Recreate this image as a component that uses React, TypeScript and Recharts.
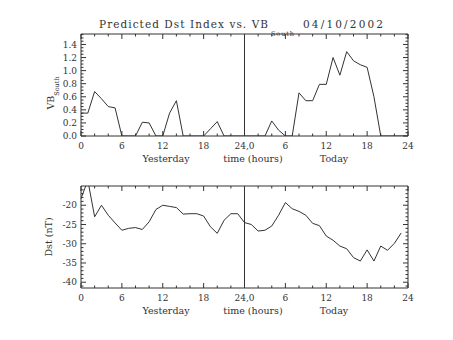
import React from 'react';
import {
  LineChart,
  Line,
  XAxis,
  YAxis,
  ReferenceLine,
} from 'recharts';

// hourly values, yesterday 0-23 then today 24-48
const vbSouth = [
  0.35, 0.35, 0.68, 0.57, 0.45, 0.43, 0, 0, 0, 0.21, 0.2, 0, 0, 0.35, 0.54, 0,
  0, 0, 0, 0.11, 0.22, 0, 0, 0,
  0, 0, 0, 0, 0.23, 0.09, 0, 0, 0.66, 0.54, 0.54, 0.79, 0.79, 1.2, 0.93, 1.29,
  1.15, 1.09, 1.05, 0.6, 0, 0, 0, 0, 0,
];

const dst = [
  -18.3, -13.5, -23.0, -20.0, -22.6, -24.6, -26.5, -26.0, -25.8, -26.3, -24.3,
  -21.1, -20.0, -20.3, -20.6, -22.3, -22.2, -22.2, -22.8, -25.6, -27.3, -23.9,
  -22.2, -22.2,
  -24.5, -25.0, -26.7, -26.5, -25.4, -22.6, -19.3, -20.9, -21.6, -22.6, -24.7,
  -25.3, -28.0, -29.1, -30.6, -31.3, -33.6, -34.5, -31.6, -34.5, -30.6, -31.7,
  -29.9, -27.2,
];

const hourTicks = [
  0, 2, 4, 6, 8, 10, 12, 14, 16, 18, 20, 22, 24, 26, 28, 30, 32, 34, 36, 38, 40,
  42, 44, 46, 48,
];

const vbTicks = [
  0, 0.05, 0.1, 0.15, 0.2, 0.25, 0.3, 0.35, 0.4, 0.45, 0.5, 0.55, 0.6, 0.65,
  0.7, 0.75, 0.8, 0.85, 0.9, 0.95, 1.0, 1.05, 1.1, 1.15, 1.2, 1.25, 1.3, 1.35,
  1.4, 1.45, 1.5, 1.55,
];

const dstTicks = [
  -41, -40, -39, -38, -37, -36, -35, -34, -33, -32, -31, -30, -29, -28, -27,
  -26, -25, -24, -23, -22, -21, -20, -19, -18, -17, -16,
];

const vbData = vbSouth.map((v, i) => ({ hour: i, vb: v }));
const dstData = dst.map((v, i) => ({ hour: i, dst: v }));

const FONT = "'DejaVu Serif', serif";
const INK = '#333';

const hourLabel = (v: number) => (v === 24 ? '24,0' : v > 24 ? String(v - 24) : String(v));
const isVbMajor = (v: number) => Math.abs(v * 5 - Math.round(v * 5)) < 1e-6;
const isDstMajor = (v: number) => v % 5 === 0;

function BottomTick({ x, y, payload }: any) {
  const v = payload.value;
  const major = v % 6 === 0;
  return (
    <g>
      <line x1={x} x2={x} y1={y} y2={y - (major ? 5 : 2.5)} stroke={INK} />
      {major && (
        <text x={x} y={y + 13} textAnchor="middle" fontSize={9} fontFamily={FONT} fill={INK}>
          {hourLabel(v)}
        </text>
      )}
    </g>
  );
}

function TopTick({ x, y, payload }: any) {
  const major = payload.value % 6 === 0;
  return <line x1={x} x2={x} y1={y} y2={y + (major ? 5 : 2.5)} stroke={INK} />;
}

function makeLeftTick(isMajor: (v: number) => boolean, fmt: (v: number) => string) {
  return function LeftTick({ x, y, payload }: any) {
    const major = isMajor(payload.value);
    return (
      <g>
        <line x1={x} x2={x + (major ? 5 : 2.5)} y1={y} y2={y} stroke={INK} />
        {major && (
          <text x={x - 4} y={y + 3.2} textAnchor="end" fontSize={9} fontFamily={FONT} fill={INK}>
            {fmt(payload.value)}
          </text>
        )}
      </g>
    );
  };
}

function makeRightTick(isMajor: (v: number) => boolean) {
  return function RightTick({ x, y, payload }: any) {
    const major = isMajor(payload.value);
    return <line x1={x} x2={x - (major ? 5 : 2.5)} y1={y} y2={y} stroke={INK} />;
  };
}

const VbLeftTick = makeLeftTick(isVbMajor, (v) => v.toFixed(1));
const VbRightTick = makeRightTick(isVbMajor);
const DstLeftTick = makeLeftTick(isDstMajor, (v) => String(v));
const DstRightTick = makeRightTick(isDstMajor);

const axisLine = { stroke: INK };

function TimeCaption({ y }: { y: number }) {
  return (
    <g fontSize={9.5} fontFamily={FONT} fill={INK} textAnchor="middle">
      <text x={166} y={y}>Yesterday</text>
      <text x={253} y={y}>time (hours)</text>
      <text x={334} y={y}>Today</text>
    </g>
  );
}

export default function App() {
  return (
    <div
      style={{
        position: 'absolute',
        left: 0,
        top: 0,
        width: 453,
        height: 340,
        background: '#fff',
        fontFamily: FONT,
      }}
    >
      <div style={{ position: 'absolute', left: 0, top: 0 }}>
        <LineChart width={453} height={170} data={vbData} margin={{ top: 0, right: 0, bottom: 14, left: 0 }}>
          <XAxis
            dataKey="hour"
            type="number"
            domain={[0, 48]}
            ticks={hourTicks}
            interval={0}
            height={20}
            tickSize={0}
            tickMargin={0}
            tickLine={false}
            axisLine={axisLine}
            tick={<BottomTick />}
          />
          <XAxis
            xAxisId="top"
            dataKey="hour"
            orientation="top"
            type="number"
            domain={[0, 48]}
            ticks={hourTicks}
            interval={0}
            height={34}
            tickSize={0}
            tickMargin={0}
            tickLine={false}
            axisLine={axisLine}
            tick={<TopTick />}
          />
          <YAxis
            type="number"
            domain={[0, 1.56]}
            allowDataOverflow
            ticks={vbTicks}
            interval={0}
            width={81}
            tickSize={0}
            tickMargin={0}
            tickLine={false}
            axisLine={axisLine}
            tick={<VbLeftTick />}
          />
          <YAxis
            yAxisId="right"
            orientation="right"
            type="number"
            domain={[0, 1.56]}
            allowDataOverflow
            ticks={vbTicks}
            interval={0}
            width={45}
            tickSize={0}
            tickMargin={0}
            tickLine={false}
            axisLine={axisLine}
            tick={<VbRightTick />}
          />
          <ReferenceLine x={24} stroke={INK} />
          {/* invisible copy so the top and right frame axes get a scale */}
          <Line
            xAxisId="top"
            yAxisId="right"
            dataKey="vb"
            stroke="none"
            dot={false}
            activeDot={false}
            isAnimationActive={false}
          />
          <Line
            type="linear"
            dataKey="vb"
            stroke={INK}
            strokeWidth={1}
            dot={false}
            isAnimationActive={false}
          />
        </LineChart>
      </div>
      <div style={{ position: 'absolute', left: 0, top: 170 }}>
        <LineChart width={453} height={170} data={dstData} margin={{ top: 0, right: 0, bottom: 32, left: 0 }}>
          <XAxis
            dataKey="hour"
            type="number"
            domain={[0, 48]}
            ticks={hourTicks}
            interval={0}
            height={20}
            tickSize={0}
            tickMargin={0}
            tickLine={false}
            axisLine={axisLine}
            tick={<BottomTick />}
          />
          <XAxis
            xAxisId="top"
            dataKey="hour"
            orientation="top"
            type="number"
            domain={[0, 48]}
            ticks={hourTicks}
            interval={0}
            height={16}
            tickSize={0}
            tickMargin={0}
            tickLine={false}
            axisLine={axisLine}
            tick={<TopTick />}
          />
          <YAxis
            type="number"
            domain={[-41.5, -15]}
            allowDataOverflow
            ticks={dstTicks}
            interval={0}
            width={81}
            tickSize={0}
            tickMargin={0}
            tickLine={false}
            axisLine={axisLine}
            tick={<DstLeftTick />}
          />
          <YAxis
            yAxisId="right"
            orientation="right"
            type="number"
            domain={[-41.5, -15]}
            allowDataOverflow
            ticks={dstTicks}
            interval={0}
            width={45}
            tickSize={0}
            tickMargin={0}
            tickLine={false}
            axisLine={axisLine}
            tick={<DstRightTick />}
          />
          <ReferenceLine x={24} stroke={INK} />
          <Line
            xAxisId="top"
            yAxisId="right"
            dataKey="dst"
            stroke="none"
            dot={false}
            activeDot={false}
            isAnimationActive={false}
          />
          <Line
            type="linear"
            dataKey="dst"
            stroke={INK}
            strokeWidth={1}
            dot={false}
            isAnimationActive={false}
          />
        </LineChart>
      </div>
      <svg
        width={453}
        height={340}
        style={{ position: 'absolute', left: 0, top: 0, pointerEvents: 'none' }}
      >
        <g fontFamily={FONT} fill={INK}>
          <text x={99} y={28} fontSize={10.5} textLength={169} lengthAdjust="spacing">
            Predicted Dst Index vs. VB
          </text>
          <text x={271} y={36} fontSize={6.5} textLength={23}>South</text>
          <text x={303} y={28} fontSize={10.5} textLength={80} lengthAdjust="spacing">
            04/10/2002
          </text>
          <text transform="translate(54, 93) rotate(-90)" fontSize={9.5} textAnchor="middle">
            VB<tspan fontSize={6.5} dy={5}>South</tspan>
          </text>
          <text transform="translate(52, 237) rotate(-90)" fontSize={9.5} textAnchor="middle">
            Dst (nT)
          </text>
        </g>
        <TimeCaption y={162} />
        <TimeCaption y={314} />
      </svg>
    </div>
  );
}
